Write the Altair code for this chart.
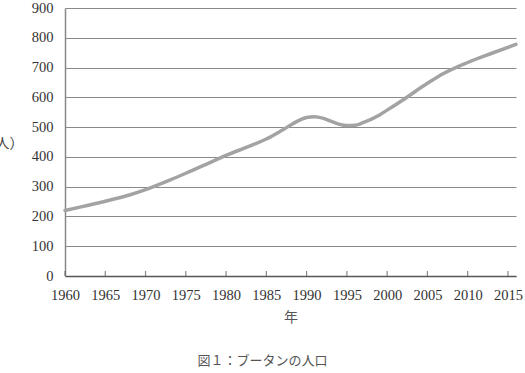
import altair as alt
import pandas as pd

years = [1960, 1962, 1965, 1968, 1970, 1973, 1975, 1978, 1980, 1983, 1985, 1987,
         1989, 1990, 1991, 1992, 1993, 1994, 1995, 1996, 1997, 1999, 2000, 2002,
         2005, 2007, 2010, 2013, 2016]
population = [220, 232, 251, 272, 290, 322, 345, 381, 405, 437, 460, 490,
              522, 532, 535, 530, 520, 510, 505, 506, 515, 540, 557, 592,
              647, 680, 717, 748, 778]
tick_years = [1960, 1965, 1970, 1975, 1980, 1985, 1990, 1995, 2000, 2005, 2010, 2015]
y_ticks = [0, 100, 200, 300, 400, 500, 600, 700, 800, 900]

df = pd.DataFrame({"year": years, "pop": population})
ticks_df = pd.DataFrame({"year": tick_years, "pop": [0] * len(tick_years)})

serif = "Liberation Serif"
sans = "Noto Sans CJK JP"

x_scale = alt.Scale(domain=[1960, 2016], nice=False, zero=False)
y_scale = alt.Scale(domain=[0, 900], nice=False)

x_axis = alt.Axis(values=tick_years, format="d", title="年",
                  labelFont=serif, labelFontSize=14.5, labelColor="#333",
                  labelPadding=12, labelOverlap=False, labelBound=False,
                  labelFlush=False,
                  ticks=False, domainColor="#555",
                  domainWidth=1.5, grid=False, titleFont=sans,
                  titleFontSize=14, titleFontWeight="normal",
                  titleColor="#555", titlePadding=9)
y_axis = alt.Axis(values=y_ticks, format="d", title="（千人）",
                  labelFont=serif, labelFontSize=14.5, labelColor="#333",
                  labelPadding=12, labelOverlap=False, labelBound=False,
                  labelFlush=False,
                  ticks=False, domainColor="#888",
                  domainWidth=1.5, grid=True, gridColor="#8a8a8a",
                  gridWidth=1.2, titleFont=sans, titleFontSize=14,
                  titleFontWeight="normal", titleColor="#444",
                  titleAngle=0, titleAlign="right", titleBaseline="middle",
                  titleX=-42, titleY=135)

line = alt.Chart(df).mark_line(
    color="#a3a3a3", strokeWidth=3.5, interpolate="monotone", strokeCap="round"
).encode(
    x=alt.X("year:Q", scale=x_scale, axis=x_axis),
    y=alt.Y("pop:Q", scale=y_scale, axis=y_axis),
)

ticks = alt.Chart(ticks_df).mark_tick(
    color="#555", orient="vertical", size=5, thickness=1.2, yOffset=-2.5
).encode(
    x=alt.X("year:Q", scale=x_scale, axis=x_axis),
    y=alt.Y("pop:Q", scale=y_scale, axis=y_axis),
)

chart = alt.layer(line, ticks).properties(
    width=451,
    height=268,
    autosize=alt.AutoSizeParams(type="none"),
    padding={"left": 65, "top": 8, "right": 9, "bottom": 97},
    title=alt.TitleParams(
        "図１：ブータンの人口", orient="bottom", anchor="middle", dx=-28,
        offset=30, font=sans, fontSize=13, fontWeight="normal", color="#555",
    ),
    background="white",
).configure_view(stroke=None)

chart.save("out.html", embed_options={"renderer": "svg", "actions": False})
